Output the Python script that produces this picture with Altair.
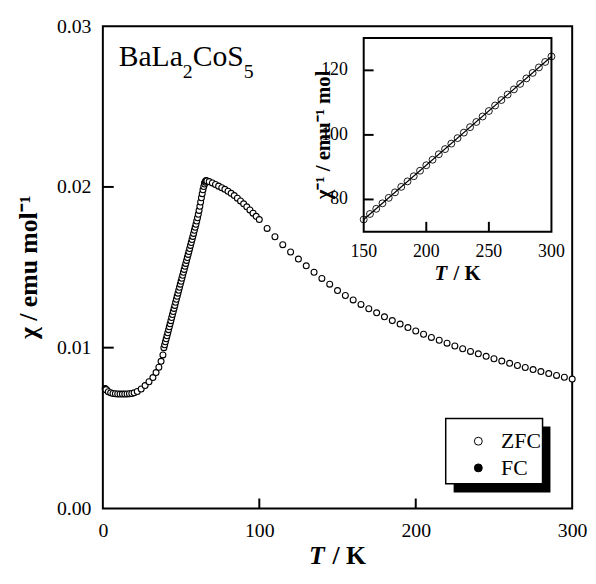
import altair as alt
import pandas as pd

# ---------------- data ----------------
T_flat = [2.0, 3.5, 5.0, 6.5, 8.0, 9.5, 11.0, 12.5, 14.0, 15.5, 17.0, 18.5, 20.0]
chi_flat = [0.00738, 0.00726, 0.00719, 0.00715, 0.00713, 0.00712, 0.00711,
            0.00711, 0.00711, 0.00712, 0.00713, 0.00715, 0.00719]

T_onset = [22.0, 24.5, 27.0, 29.5, 32.0, 34.0, 35.8, 37.2, 38.4]
chi_onset = [0.00727, 0.00743, 0.00764, 0.00788, 0.00814, 0.00845, 0.00878, 0.00915, 0.00955]

T_rise = [39.0, 39.5, 40.0, 40.5, 41.0, 41.5, 42.0, 42.5, 43.0, 43.5, 44.0, 44.5,
          45.0, 45.5, 46.0, 46.5, 47.0, 47.5, 48.0, 48.5, 49.0, 49.5, 50.0, 50.5,
          51.0, 51.5, 52.0, 52.5, 53.0, 53.5, 54.0, 54.5, 55.0, 55.5, 56.0, 56.5,
          57.0, 57.5, 58.0, 58.5, 59.0, 59.5, 60.0, 60.5, 61.0, 61.5, 62.0, 62.5,
          63.0, 63.5, 64.0, 64.5, 65.0, 65.5, 66.0, 66.5]
chi_rise = [0.01000, 0.01018, 0.01037, 0.01055, 0.01074, 0.01093, 0.01112, 0.01130,
            0.01149, 0.01168, 0.01187, 0.01206, 0.01225, 0.01244, 0.01263, 0.01282,
            0.01301, 0.01320, 0.01339, 0.01357, 0.01376, 0.01395, 0.01413, 0.01432,
            0.01450, 0.01469, 0.01487, 0.01506, 0.01524, 0.01543, 0.01561, 0.01580,
            0.01598, 0.01617, 0.01636, 0.01654, 0.01673, 0.01692, 0.01711, 0.01730,
            0.01749, 0.01768, 0.01788, 0.01808, 0.01830, 0.01854, 0.01880, 0.01906,
            0.01932, 0.01958, 0.01982, 0.02002, 0.02018, 0.02029, 0.02035, 0.02037]

T_fall = [68, 70, 72, 74, 76, 78, 80, 82, 84, 86, 88, 90, 92, 94, 96, 98, 100]
chi_fall = [0.02033, 0.02025, 0.02015, 0.02005, 0.01995, 0.01985, 0.01973, 0.01960,
            0.01946, 0.01930, 0.01913, 0.01895, 0.01876, 0.01857, 0.01837, 0.01817, 0.01797]

T_mid = [105, 110, 115, 120, 125, 130, 135, 140, 145]
chi_mid = [0.01742, 0.01690, 0.01641, 0.01595, 0.01551, 0.01509, 0.01469, 0.01431, 0.01395]

# inverse susceptibility, 150-300 K (inset); main-panel values are its reciprocal
T_hi = [150, 155, 160, 165, 170, 175, 180, 185, 190, 195, 200, 205, 210, 215, 220, 225,
        230, 235, 240, 245, 250, 255, 260, 265, 270, 275, 280, 285, 290, 295, 300]
inv_hi = [73.8, 75.5, 77.1, 78.8, 80.5, 82.2, 83.9, 85.6, 87.2, 88.9, 90.6, 92.3, 94.0,
          95.6, 97.3, 99.0, 100.7, 102.4, 104.0, 105.7, 107.4, 109.1, 110.8, 112.5,
          114.1, 115.8, 117.5, 119.2, 120.9, 122.6, 124.3]

# Curie-Weiss fit line shown in the inset
fit_T = [150, 300]
fit_inv = [73.8, 124.3]

# FC points (mostly hidden under ZFC)
T_fc = [1.5, 2.5, 65.0, 65.5, 66.0]
chi_fc = [0.00746, 0.00736, 0.02024, 0.02034, 0.02040]

series_names = ["ZFC", "FC"]

main_xticks = [0, 100, 200, 300]
main_yticks = [0.00, 0.01, 0.02, 0.03]
main_xinner = [100, 200]
main_yinner = [0.01, 0.02]
main_xdom = [0, 300]
main_ydom = [0.0, 0.03]

inset_xticks = [150, 200, 250, 300]
inset_yticks = [80, 100, 120]
inset_xinner = [200, 250]
inset_yinner = [80, 100, 120]
inset_xbox = [150, 300]
inset_ybox = [70, 130]

# ---------------- layout constants ----------------
W, H = 475, 488
IL, IR, IT, IB = 264, 454, 12, 208          # inset frame in plot pixels
SERIF = "Liberation Serif"

kx = (IR - IL) / (inset_xbox[1] - inset_xbox[0])
ky = (IB - IT) / (inset_ybox[1] - inset_ybox[0])
inset_xdom = [inset_xbox[0] - IL / kx, inset_xbox[1] + (W - IR) / kx]
inset_ydom = [inset_ybox[0] - (H - IB) / ky, inset_ybox[1] + IT / ky]

# ---------------- tables ----------------
T_zfc = T_flat + T_onset + T_rise + T_fall + T_mid + T_hi
chi_zfc = chi_flat + chi_onset + chi_rise + chi_fall + chi_mid + [1.0 / v for v in inv_hi]
main_df = pd.DataFrame({
    "T": T_fc + T_zfc,
    "chi": chi_fc + chi_zfc,
    "series": ["FC"] * len(T_fc) + ["ZFC"] * len(T_zfc),
})
inset_df = pd.DataFrame({"T": T_hi, "inv": inv_hi})
fit_df = pd.DataFrame({"T": fit_T, "inv": fit_inv})

xs = alt.Scale(domain=main_xdom, nice=False, zero=False)
ys = alt.Scale(domain=main_ydom, nice=False, zero=False)
ixs = alt.Scale(domain=inset_xdom, nice=False, zero=False)
iys = alt.Scale(domain=inset_ydom, nice=False, zero=False)

ax_x = alt.Axis(values=main_xticks, format="d", title=None, ticks=False, domain=False,
                grid=False, labelFlush=False, labelOverlap=False, labelPadding=12,
                labelFont=SERIF, labelFontSize=20, labelColor="black")
ax_y = alt.Axis(values=main_yticks, format=".2f", title=None, ticks=False, domain=False,
                grid=False, labelFlush=False, labelOverlap=False, labelPadding=12,
                labelFont=SERIF, labelFontSize=20, labelColor="black")

legend = alt.Legend(title=None, orient="none", legendX=347, legendY=409, padding=0,
                    symbolType="circle", symbolSize=64, symbolStrokeColor="black",
                    symbolStrokeWidth=1, symbolOffset=22, labelFont=SERIF,
                    labelFontSize=22, labelColor="black", labelOffset=12, rowPadding=5,
                    labelLimit=300)

one = pd.DataFrame({"k": [0]})

shadow = alt.Chart(one).mark_rect(fill="black").encode(
    x=alt.value(355), x2=alt.value(453), y=alt.value(405), y2=alt.value(472))
lbox = alt.Chart(one).mark_rect(fill="white", stroke="black", strokeWidth=1.5).encode(
    x=alt.value(347), x2=alt.value(445), y=alt.value(397), y2=alt.value(463))

points = alt.Chart(main_df).mark_point(shape="circle", filled=True, stroke="black",
                                       strokeWidth=1.1, size=36, opacity=1).encode(
    x=alt.X("T:Q", scale=xs, axis=ax_x),
    y=alt.Y("chi:Q", scale=ys, axis=ax_y),
    fill=alt.Fill("series:N", scale=alt.Scale(domain=series_names, range=["white", "black"]),
                  legend=legend),
)
xt = alt.Chart(pd.DataFrame({"T": main_xinner})).mark_rule(color="black", strokeWidth=2).encode(
    x=alt.X("T:Q", scale=xs, axis=ax_x), y=alt.value(H), y2=alt.value(H - 10))
yt = alt.Chart(pd.DataFrame({"chi": main_yinner})).mark_rule(color="black", strokeWidth=2).encode(
    y=alt.Y("chi:Q", scale=ys, axis=ax_y), x=alt.value(0), x2=alt.value(11))

main = alt.layer(shadow, lbox, points, xt, yt)

# ---------------- inset ----------------
box_df = pd.DataFrame({"x1": [inset_xbox[0]], "x2": [inset_xbox[1]],
                       "y1": [inset_ybox[0]], "y2": [inset_ybox[1]]})
ibox = alt.Chart(box_df).mark_rect(fill="white", stroke="black", strokeWidth=2).encode(
    x=alt.X("x1:Q", scale=ixs, axis=None), x2="x2",
    y=alt.Y("y1:Q", scale=iys, axis=None), y2="y2")
ipts = alt.Chart(inset_df).mark_point(shape="circle", filled=False, stroke="black",
                                      strokeWidth=0.9, size=49, opacity=1).encode(
    x=alt.X("T:Q", scale=ixs, axis=None), y=alt.Y("inv:Q", scale=iys, axis=None))
iline = alt.Chart(fit_df).mark_line(color="black", strokeWidth=1.2).encode(
    x=alt.X("T:Q", scale=ixs, axis=None), y=alt.Y("inv:Q", scale=iys, axis=None))
ixt = alt.Chart(pd.DataFrame({"T": inset_xinner})).mark_rule(color="black", strokeWidth=2).encode(
    x=alt.X("T:Q", scale=ixs, axis=None), y=alt.value(IB), y2=alt.value(IB - 10))
iyt = alt.Chart(pd.DataFrame({"v": inset_yinner})).mark_rule(color="black", strokeWidth=2).encode(
    y=alt.Y("v:Q", scale=iys, axis=None), x=alt.value(IL), x2=alt.value(IL + 10))
ixl = alt.Chart(pd.DataFrame({"T": inset_xticks, "lab": [str(v) for v in inset_xticks]})).mark_text(
    font=SERIF, fontSize=18, color="black", align="center", baseline="alphabetic").encode(
    x=alt.X("T:Q", scale=ixs, axis=None), y=alt.value(IB + 26), text="lab:N")
iyl = alt.Chart(pd.DataFrame({"v": inset_yticks, "lab": [str(v) for v in inset_yticks]})).mark_text(
    font=SERIF, fontSize=18, color="black", align="right", baseline="middle").encode(
    y=alt.Y("v:Q", scale=iys, axis=None), x=alt.value(IL - 16), text="lab:N")

inset = alt.layer(ibox, ipts, iline, ixt, iyt, ixl, iyl)

# ---------------- text ----------------
def txt(s, x, y, size, weight="normal", style="normal", align="left", angle=0):
    kw = dict(text=s, font=SERIF, fontSize=size, fontWeight=weight, fontStyle=style,
              color="black", align=align, baseline="alphabetic")
    if angle:
        kw["angle"] = angle
    return alt.Chart(one).mark_text(**kw).encode(x=alt.value(x), y=alt.value(y))

# compound name with subscripts (Times metrics: Liberation Serif is metric-compatible)
F, FS = 30, 20
x0, base, sub_base = 16, 40, 52
w_bala = (0.667 + 0.444 + 0.611 + 0.444) * F
w_cos = (0.667 + 0.5 + 0.556) * F
texts = [
    txt("BaLa", x0, base, F),
    txt("2", x0 + w_bala, sub_base, FS),
    txt("CoS", x0 + w_bala + 0.5 * FS, base, F),
    txt("5", x0 + w_bala + 0.5 * FS + w_cos, sub_base, FS),
]

# main x title "T / K": italic T, then upright "/ K" after a gap
FT = 26
gap = 0.3 * FT
wT, wR = 0.611 * FT, (0.278 + 0.25 + 0.778) * FT
split = W / 2 - (wT + gap + wR) / 2 + wT
texts += [txt("T", split, 544, FT, "bold", "italic", "right"),
          txt("/ K", split + gap, 544, FT, "bold", "normal", "left")]

# inset x title
FI = 21
gapi = 0.3 * FI
wTi, wRi = 0.611 * FI, (0.278 + 0.25 + 0.778) * FI
spliti = (IL + IR) / 2 - (wTi + gapi + wRi) / 2 + wTi
texts += [txt("T", spliti, 257, FI, "bold", "italic", "right"),
          txt("/ K", spliti + gapi, 257, FI, "bold", "normal", "left")]

# y titles
texts += [txt("χ / emu mol⁻¹", -67, H / 2, 26, "bold", "normal", "center", 270),
          txt("χ⁻¹ / emu⁻¹ mol", 230, (IT + IB) / 2, 21, "bold", "normal", "center", 270)]

chart = alt.layer(main, inset, *texts).resolve_scale(
    x="independent", y="independent"
).properties(
    width=W, height=H,
    autosize=alt.AutoSizeParams(type="none"),
    padding={"left": 96, "top": 15, "right": 16, "bottom": 65},
).configure_view(stroke="black", strokeWidth=2)

chart.save("out.html", embed_options={"renderer": "svg", "actions": False})
